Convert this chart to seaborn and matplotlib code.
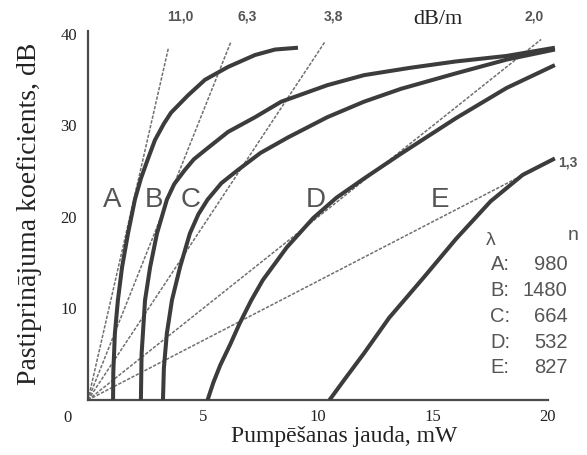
import matplotlib
matplotlib.use("Agg")
import matplotlib.pyplot as plt
import seaborn as sns
import pandas as pd

# Gain curves for five pump wavelengths (pump power, mW -> gain, dB)
curve_a_x = [1.09, 1.10, 1.17, 1.30, 1.48, 1.74, 2.04, 2.30, 2.57, 2.91, 3.30, 3.61, 4.35,
             5.09, 6.09, 7.26, 8.13, 9.13]
curve_a_y = [0.0, 3.0, 7.3, 10.9, 14.5, 18.2, 21.9, 24.2, 26.1, 28.4, 30.2, 31.4, 33.3,
             35.0, 36.4, 37.7, 38.3, 38.5]

curve_b_x = [2.30, 2.33, 2.48, 2.70, 3.00, 3.43, 3.75, 4.20, 4.60, 5.09, 6.09, 7.26, 8.40,
             10.4, 12.0, 14.0, 16.0, 18.2, 20.3]
curve_b_y = [0.0, 5.0, 10.9, 14.5, 18.2, 21.9, 23.6, 25.1, 26.3, 27.3, 29.3, 30.9, 32.6,
             34.4, 35.5, 36.3, 37.0, 37.6, 38.5]

curve_c_x = [3.26, 3.30, 3.43, 3.65, 4.00, 4.43, 4.80, 5.20, 5.80, 6.50, 7.50, 8.70, 10.4,
             12.0, 13.6, 16.0, 18.2, 20.3]
curve_c_y = [0.0, 3.5, 7.3, 10.9, 14.5, 18.2, 20.3, 21.9, 23.7, 25.1, 27.0, 28.7, 30.9,
             32.6, 34.0, 35.7, 37.2, 38.3]

curve_d_x = [5.20, 5.45, 5.75, 6.17, 6.60, 7.10, 7.60, 8.65, 9.80, 10.8, 12.0, 13.6, 16.0,
             18.2, 20.3]
curve_d_y = [0.0, 1.9, 3.8, 6.0, 8.4, 10.9, 13.1, 16.7, 19.9, 22.1, 24.2, 26.9, 30.8,
             34.1, 36.6]

curve_e_x = [10.5, 11.2, 12.0, 13.1, 14.6, 16.0, 17.5, 18.9, 20.3]
curve_e_y = [0.0, 2.4, 5.1, 9.0, 13.4, 17.6, 21.7, 24.6, 26.4]

curve_names = ["A", "B", "C", "D", "E"]
curve_label_x = [1.05, 2.85, 4.45, 9.9, 15.3]
curve_label_y = [21.9, 21.9, 21.9, 21.9, 21.9]

# Efficiency lines through the origin (slope in dB/mW) and where each stops
slopes = [11.0, 6.3, 3.8, 2.0, 1.3]
slope_labels = ["11,0", "6,3", "3,8", "2,0", "1,3"]
slope_end_x = [3.5, 6.2, 10.3, 19.7, 18.9]

# Pump wavelengths table
wl_letters = ["A:", "B:", "C:", "D:", "E:"]
wl_values = ["980", "1480", "664", "532", "827"]

x_ticks = [5, 10, 15, 20]
y_ticks = [10, 20, 30, 40]

sns.set_theme(style="white")
plt.rcParams["font.family"] = ["Liberation Serif", "DejaVu Serif"]

curve_color = "#3c3c3c"
axis_color = "#4a4a4a"
text_gray = "#555555"
text_dark = "#222222"

fig = plt.figure(figsize=(5.87, 4.55), dpi=100)
ax = fig.add_axes([0.1499, 0.1209, 0.8424, 0.8748])

# dashed efficiency lines
for k, xe in zip(slopes, slope_end_x):
    df = pd.DataFrame({"P": [0.0, xe], "G": [0.0, k * xe]})
    sns.lineplot(data=df, x="P", y="G", ax=ax, color="#707070", lw=1.1,
                 linestyle=(0, (2.2, 1.0)), sort=False, estimator=None, zorder=2)

# gain curves
curves = [(curve_a_x, curve_a_y), (curve_b_x, curve_b_y), (curve_c_x, curve_c_y),
          (curve_d_x, curve_d_y), (curve_e_x, curve_e_y)]
for cx, cy in curves:
    df = pd.DataFrame({"P": cx, "G": cy})
    sns.lineplot(data=df, x="P", y="G", ax=ax, color=curve_color, lw=2.9,
                 sort=False, estimator=None, zorder=3, solid_capstyle="butt",
                 solid_joinstyle="round")

ax.set_xlim(0, 21.5)
ax.set_ylim(0, 43.5)

for side in ["top", "right"]:
    ax.spines[side].set_visible(False)
for side in ["left", "bottom"]:
    ax.spines[side].set_color(axis_color)
    ax.spines[side].set_linewidth(1.6)
ax.spines["left"].set_bounds(0, 40.3)
ax.spines["bottom"].set_bounds(0, 20)

ax.set_xticks(x_ticks)
ax.set_yticks(y_ticks)
ax.set_xticklabels([str(t) for t in x_ticks])
ax.set_yticklabels([str(t) for t in y_ticks])
ax.tick_params(axis="both", direction="in", length=14, width=1.5, color=axis_color,
               labelsize=12, labelcolor=text_dark)
ax.tick_params(axis="x", pad=6.5)
ax.tick_params(axis="y", pad=8)
ax.text(-0.87, -2.0, "0", ha="center", va="center", fontsize=12, color=text_dark, clip_on=False)

ax.set_xlabel("Pumpēšanas jauda, mW", fontsize=17, color=text_dark, labelpad=1, x=0.518)
ax.set_ylabel("Pastiprinājuma koeficients, dB", fontsize=20, color=text_dark, labelpad=13,
              y=0.467)
ax.grid(False)

sans = ["Liberation Sans", "DejaVu Sans"]

# slope labels above the dashed lines
label_pos = [(4.0, 41.9), (6.9, 41.9), (10.65, 41.9), (19.4, 41.9)]
for (lx, ly), txt in zip(label_pos, slope_labels[:4]):
    ax.text(lx, ly, txt, ha="center", va="center", fontsize=10, color=text_gray,
            family=sans, fontweight="bold", clip_on=False)
ax.text(20.45, 26.0, slope_labels[4], ha="left", va="center", fontsize=10, color=text_gray,
        family=sans, fontweight="bold", clip_on=False)
ax.text(15.2, 41.6, "dB/m", ha="center", va="center", fontsize=16, color=text_dark)

# curve letters
for name, lx, ly in zip(curve_names, curve_label_x, curve_label_y):
    ax.text(lx, ly, name, ha="center", va="center", fontsize=20, color=text_gray, family=sans)

# wavelength table
ax.text(17.5, 17.4, "λ", ha="center", va="center", fontsize=14, color=text_gray, family=sans)
ax.text(21.1, 18.0, "n", ha="center", va="center", fontsize=14, color=text_gray, family=sans)
row_y = [14.8, 12.0, 9.1, 6.3, 3.5]
for letter, val, ry in zip(wl_letters, wl_values, row_y):
    ax.text(17.5, ry, letter, ha="left", va="center", fontsize=14.5, color=text_gray, family=sans)
    ax.text(20.85, ry, val, ha="right", va="center", fontsize=14.5, color=text_gray, family=sans)

fig.savefig("out.png", dpi=100)
